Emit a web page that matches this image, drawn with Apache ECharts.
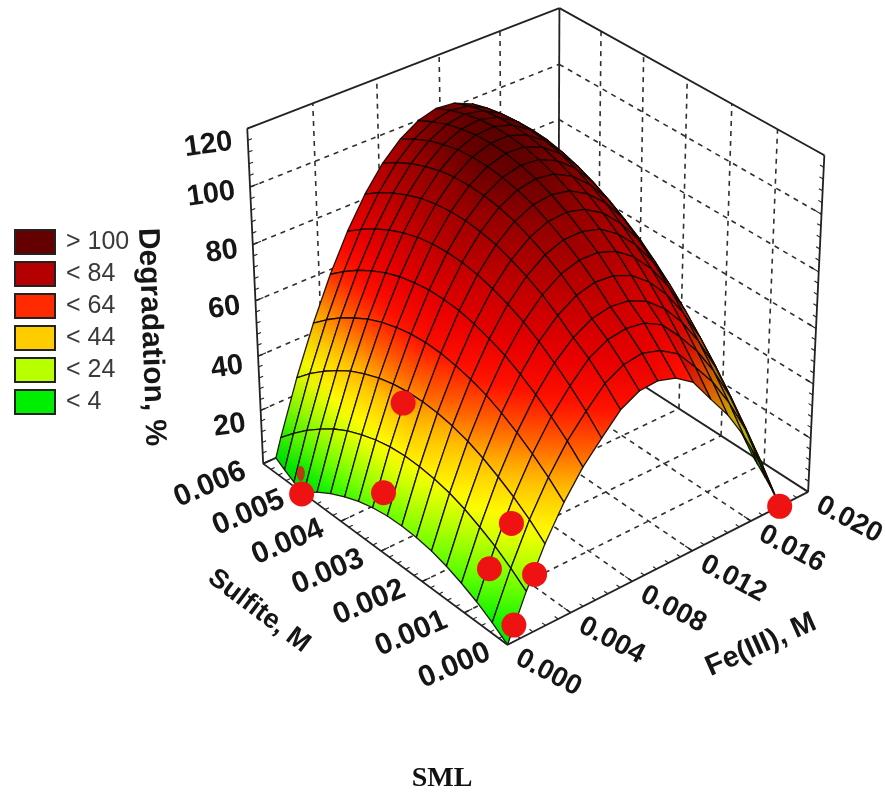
<!DOCTYPE html>
<html><head><meta charset="utf-8">
<style>html,body{margin:0;padding:0;background:#fff}#c{width:885px;height:793px;filter:blur(0.45px)}</style>
<script src="https://cdn.jsdelivr.net/npm/echarts@6/dist/echarts.min.js"></script>
</head><body><div id="c"></div>
<script>
// ---------- values ----------
const feGrid = [0,0.00118,0.00235,0.00353,0.00471,0.00588,0.00706,0.00824,0.00941,0.01059,0.01176,0.01294,0.01412,0.01529,0.01647,0.01765,0.01882,0.02];
const sulfiteGrid = [0,0.00035,0.00071,0.00106,0.00141,0.00176,0.00212,0.00247,0.00282,0.00318,0.00353,0.00388,0.00424,0.00459,0.00494,0.00529,0.00565,0.006];
// one row per sulfite level, one column per Fe(III) level; below 0 lies under the floor
const degradation = [
[0,15.9,29.6,41.0,50.2,57.2,64,67.5,68,66,61.5,52.6,44.0,33.3,20.3,5.0,-12.4,-32],
[4.0,20.2,34.3,46.0,55.6,62.9,69.5,73,74,72,68,60.3,52.1,41.7,29.1,14.1,-3.0,-22.2],
[7.4,24.0,38.4,50.4,60.3,68.0,74.5,78,79,78,74.5,67.5,59.5,49.5,37.2,22.6,5.9,-13.1],
[10.1,27.0,41.7,54.2,64.4,72.4,78.2,81.8,83.1,82.3,79.3,73.9,66.3,56.6,44.6,30.4,14.0,-4.6],
[12.3,29.6,44.6,57.4,67.9,76.3,82.4,86.4,88.1,87.5,84.9,79.8,72.6,63.2,51.6,37.7,21.6,3.4],
[13.9,31.5,46.9,60.0,70.9,79.6,86.1,90.4,92.4,92.2,89.9,85.2,78.3,69.2,57.9,44.3,28.6,10.7],
[14.8,32.7,48.5,61.9,73.1,82.2,89.0,93.6,96.0,96.1,94.2,89.8,83.2,74.6,63.6,50.3,35.0,17.4],
[15.1,33.4,49.5,63.2,74.8,84.2,91.3,96.3,99.0,99.5,97.8,93.8,87.6,79.3,68.6,55.7,40.7,23.5],
[14.9,33.5,49.9,64.0,76.0,85.7,93.2,98.5,101.5,102.3,101.0,97.3,91.5,83.5,73.2,60.6,45.9,29.0],
[14.0,33.0,49.7,64.2,76.4,86.5,94.3,100.0,103.3,104.5,103.5,100.2,94.6,87.0,77.0,64.8,50.4,33.9],
[12.5,31.8,48.9,63.7,76.3,86.7,94.9,100.8,104.5,106.0,105.4,102.4,97.2,89.9,80.3,68.4,54.4,38.2],
[10.4,30.0,47.5,62.6,75.5,86.3,94.8,101.1,105.1,107.0,106.7,104.0,99.2,92.2,82.9,71.4,57.7,41.8],
[7.7,27.7,45.4,60.9,74.2,85.3,94.1,100.8,105.2,107.3,107.4,105.1,100.5,93.9,85.0,73.7,60.4,44.9],
[4.4,24.7,42.8,58.6,72.2,83.6,92.9,99.9,104.6,107.1,107.5,105.5,101.3,95.0,86.4,75.5,62.5,47.3],
[0.4,21.0,39.5,55.6,69.6,81.3,90.9,98.2,103.3,106.1,106.9,105.2,101.4,95.4,87.2,76.6,64.0,49.1],
[-4.1,16.9,35.7,52.2,66.5,78.5,88.4,96.1,101.5,104.7,105.8,104.5,100.9,95.3,87.4,77.2,64.9,50.4],
[-9.3,12.0,31.2,48.0,62.6,75.0,85.3,93.3,99.0,102.5,104.0,103.0,99.8,94.5,87.0,77.1,65.1,50.9],
[-15,6.7,26.1,43.3,58.3,71.0,81.6,90.0,96.0,99.9,101.7,101.0,98.2,93.2,86.0,76.5,64.8,51.0]
];
const dotFe = [0.018,0,0.0016,0.0005,0.0004,0.0017,0.0016,0.003];
const dotSulfite = [0,0.005,0.003,0.0031,0,0,0.001,0.001];
const dotDegradation = [0,-0.7,49.5,19,6,20.5,11.5,24];
const hiddenDot = [0,0.005,7];
const feTicks = [0,0.004,0.008,0.012,0.016,0.02];
const feTickLabels = ['0.000','0.004','0.008','0.012','0.016','0.020'];
const sulfiteTicks = [0,0.001,0.002,0.003,0.004,0.005,0.006];
const sulfiteTickLabels = ['0.000','0.001','0.002','0.003','0.004','0.005','0.006'];
const zTicks = [20,40,60,80,100,120];
const zLabelNudge = [4,0,-4,-4,-5,4];
const legendNames = ['> 100','< 84','< 64','< 44','< 24','< 4'];
const legendColors = ['#640000','#b40000','#ff2a00','#ffcc00','#b8ff00','#00ee00'];

// ---------- view calibration: where the box corners fall on the page ----------
const feMax = 0.02, sMax = 0.006, zMax = 120;
const boxAnchors = [
  [0,0,0,508,645],[1,0,0,808,492],[0,1,0,263,463],[1,1,0,558,331],
  [1,0,1,824,155],[0,1,1,247,129],[1,1,1,560,8]
];
function solveCamera(anchors){
  const rows=[],rhs=[];
  anchors.forEach(([X,Y,Z,px,py])=>{
    const x=px/1000,y=py/1000;
    rows.push([X,Y,Z,1,0,0,0,0,-x*X,-x*Y,-x*Z]);rhs.push(x);
    rows.push([0,0,0,0,X,Y,Z,1,-y*X,-y*Y,-y*Z]);rhs.push(y);
  });
  const n=11,M=[];
  for(let a=0;a<n;a++){M[a]=[];for(let b=0;b<n;b++){let s=0;rows.forEach(r=>s+=r[a]*r[b]);M[a][b]=s;}
    let s=0;rows.forEach((r,k)=>s+=r[a]*rhs[k]);M[a][n]=s;}
  for(let c=0;c<n;c++){let p=c;for(let r=c+1;r<n;r++)if(Math.abs(M[r][c])>Math.abs(M[p][c]))p=r;
    [M[c],M[p]]=[M[p],M[c]];
    for(let r=0;r<n;r++){if(r===c)continue;const f=M[r][c]/M[c][c];for(let k=c;k<=n;k++)M[r][k]-=f*M[c][k];}}
  return M.map((r,i)=>r[n]/r[i]);
}
const cam = solveCamera(boxAnchors);
function project(fe,s,z){
  const X=fe/feMax,Y=s/sMax,Z=z/zMax;
  const w=cam[8]*X+cam[9]*Y+cam[10]*Z+1;
  return [1000*(cam[0]*X+cam[1]*Y+cam[2]*Z+cam[3])/w,1000*(cam[4]*X+cam[5]*Y+cam[6]*Z+cam[7])/w];
}

// ---------- colour ramp ----------
const rampZ = [0,4,14,24,32,44,54,64,74,84,98,106,114];
const rampC = [[0,224,0],[0,240,0],[100,255,0],[190,255,0],[255,255,0],[255,190,0],[255,96,0],[255,16,0],[232,0,0],[200,0,0],[150,0,0],[100,0,0],[60,0,0]];
function colorAt(z,shade){
  let c=rampC[rampC.length-1];
  if(z<=rampZ[0])c=rampC[0];
  else for(let k=1;k<rampZ.length;k++){ if(z<=rampZ[k]){const t=(z-rampZ[k-1])/(rampZ[k]-rampZ[k-1]);
    c=rampC[k-1].map((a,m)=>a+(rampC[k][m]-a)*t);break;}}
  return `rgb(${c.map(a=>Math.round(a*shade))})`;
}

// ---------- surface cells, far corner first ----------
const cells=[];
for(let i=feGrid.length-2;i>=0;i--)for(let j=sulfiteGrid.length-2;j>=0;j--)cells.push([i,j]);
function clipFloor(poly){
  const out=[];
  poly.forEach((a,k)=>{const b=poly[(k+1)%poly.length];
    if(a[2]>=0)out.push(a);
    if((a[2]<0)!==(b[2]<0)){const t=a[2]/(a[2]-b[2]);out.push([a[0]+(b[0]-a[0])*t,a[1]+(b[1]-a[1])*t,0]);}
  });
  return out;
}
function cellShade(i,j){
  const Z=(a,b)=>degradation[b][a]/zMax;
  const du=(Z(i+1,j)+Z(i+1,j+1)-Z(i,j)-Z(i,j+1))/2*(feGrid.length-1);
  const dv=(Z(i,j+1)+Z(i+1,j+1)-Z(i,j)-Z(i+1,j))/2*(sulfiteGrid.length-1);
  const len=Math.hypot(du,dv,1);
  const nL=(0.42*du+0.42*dv+0.80)/len;
  return Math.max(0.64,Math.min(1,0.55+0.75*nL));
}
function renderCell(params,api){
  const i=api.value(0),j=api.value(1);
  const v=(a,b)=>[feGrid[a],sulfiteGrid[b],degradation[b][a]];
  const poly=clipFloor([v(i,j),v(i+1,j),v(i+1,j+1),v(i,j+1)]);
  if(poly.length<3)return null;
  const pts=poly.map(p=>api.coord(project(p[0],p[1],p[2])));
  let lo=0,hi=0;poly.forEach((p,k)=>{if(p[2]<poly[lo][2])lo=k;if(p[2]>poly[hi][2])hi=k;});
  const zl=poly[lo][2],zh=poly[hi][2],stops=[],sh=cellShade(i,j);
  for(let t=0;t<=4;t++)stops.push({offset:t/4,color:colorAt(zl+(zh-zl)*t/4,sh)});
  return {type:'polygon',shape:{points:pts},silent:true,style:{
    fill:new echarts.graphic.LinearGradient(pts[lo][0],pts[lo][1],pts[hi][0],pts[hi][1],stops,true),
    stroke:'rgba(20,5,0,0.92)',lineWidth:1.3,lineJoin:'round'}};
}

// ---------- box lines ----------
const fe1=feMax,s1=sMax,z1=zMax;
const dash=[5,5];
const backLines=[],frontLines=[];
function seg(list,a,b,type){list.push({a,b,type});}
feTicks.slice(1,-1).forEach(f=>{
  seg(backLines,[f,0,0],[f,s1,0],'d');
  seg(backLines,[f,s1,0],[f,s1,z1],'d');
});
sulfiteTicks.slice(1,-1).forEach(s=>{
  seg(backLines,[0,s,0],[fe1,s,0],'d');
  seg(backLines,[fe1,s,0],[fe1,s,z1],'d');
});
zTicks.slice(0,-1).forEach(z=>{
  seg(backLines,[0,s1,z],[fe1,s1,z],'d');
  seg(backLines,[fe1,s1,z],[fe1,0,z],'d');
});
seg(backLines,[0,s1,0],[fe1,s1,0],'s');seg(backLines,[fe1,s1,0],[fe1,0,0],'s');
seg(backLines,[fe1,s1,0],[fe1,s1,z1],'s');seg(backLines,[0,s1,0],[0,s1,z1],'s');seg(backLines,[fe1,0,0],[fe1,0,z1],'s');
seg(backLines,[0,s1,z1],[fe1,s1,z1],'s');seg(backLines,[fe1,s1,z1],[fe1,0,z1],'s');
seg(frontLines,[0,s1,0],[0,0,0],'s');seg(frontLines,[0,0,0],[fe1,0,0],'s');
for(let k=0;k<=30;k++){const s=k*s1/30,big=k%5===0;seg(frontLines,[0,s,0],[big?0.0005:0.00025,s,0],'t');}
for(let k=0;k<=25;k++){const f=k*fe1/25,big=k%5===0;seg(frontLines,[f,0,0],[f,big?0.00016:0.00008,0],'t');}
for(let k=0;k<=30;k++){const z=k*z1/30;seg(backLines,[0,s1,z],[k%5===0?0.0005:0.00025,s1,z],'t');}
for(let k=0;k<=30;k++){const z=k*z1/30;seg(backLines,[fe1,0,z],[fe1,k%5===0?0.00016:0.00008,z],'t');}
function lineSeries(list,zl){
  return {type:'custom',coordinateSystem:'cartesian2d',z:zl,silent:true,clip:false,animation:false,
    data:list.map((_,k)=>[k,0]),
    renderItem(params,api){
      const q=list[api.value(0)],A=api.coord(project(...q.a)),B=api.coord(project(...q.b));
      return {type:'line',shape:{x1:A[0],y1:A[1],x2:B[0],y2:B[1]},silent:true,style:{
        stroke:q.type==='d'?'#303030':'#222',lineWidth:q.type==='d'?1.6:(q.type==='t'?1.1:1.8),
        lineDash:q.type==='d'?dash:null}};
    }};
}

// ---------- text placed from the axes ----------
const texts=[];
sulfiteTicks.forEach((s,k)=>{const p=project(0,s,0);texts.push({t:sulfiteTickLabels[k],x:p[0]-53,y:p[1]+21,r:23,a:'center',f:'bold 30px "Liberation Sans"'});});
feTicks.forEach((f,k)=>{const p=project(f,0,0);texts.push({t:feTickLabels[k],x:p[0]+41,y:p[1]+28,r:-28,a:'center',f:'bold 28px "Liberation Sans"'});});
zTicks.forEach((z,k)=>{const p=project(0,s1,z);texts.push({t:String(z),x:p[0]-15,y:p[1]+9+zLabelNudge[k],r:8,a:'right',f:'bold 29px "Liberation Sans"'});});
texts.push({t:'Sulfite, M',x:259,y:611,r:-37,a:'center',f:'bold 27px "Liberation Sans"'});
texts.push({t:'Fe(III), M',x:761,y:645,r:24,a:'center',f:'bold 29px "Liberation Sans"'});
texts.push({t:'Degradation, %',x:151,y:337,r:-88,a:'center',f:'bold 30px "Liberation Sans"'});

const option={
  animation:false,
  backgroundColor:'#fff',
  title:{text:'SML',left:437,top:760,textAlign:'center',textStyle:{fontFamily:'Liberation Serif',fontWeight:'bold',fontSize:28,color:'#111'}},
  grid:{left:0,right:0,top:0,bottom:0},
  xAxis:{type:'value',min:0,max:885,show:false},
  yAxis:{type:'value',min:0,max:793,inverse:true,show:false},
  legend:{orient:'vertical',left:14,top:229,padding:0,itemWidth:40,itemHeight:24,itemGap:6,selectedMode:false,icon:'rect',
    data:legendNames,textStyle:{fontFamily:'Liberation Sans',fontSize:25,color:'#3a3a3a',padding:[0,0,0,6]}},
  series:[
    ...legendNames.map((n,k)=>({type:'scatter',name:n,data:[],itemStyle:{color:legendColors[k],opacity:1,borderColor:'#222',borderWidth:1.6}})),
    lineSeries(backLines,1),
    {type:'custom',name:'surface',coordinateSystem:'cartesian2d',z:2,clip:false,silent:true,animation:false,
      data:cells,renderItem:renderCell},
    lineSeries(frontLines,3),
    {type:'scatter',name:'points',z:4,silent:true,clip:false,
      data:[
        {value:project(...hiddenDot),symbolSize:[8,15],symbol:'circle',itemStyle:{color:'#b83a10',opacity:1}},
        ...dotFe.map((f,k)=>({value:project(f,dotSulfite[k],dotDegradation[k]),symbolSize:25,itemStyle:{color:'#ee1212',opacity:1}}))
      ]},
    {type:'custom',name:'text',coordinateSystem:'cartesian2d',z:5,clip:false,silent:true,animation:false,
      data:texts.map((_,k)=>[k,0]),
      renderItem(params,api){
        const q=texts[api.value(0)],p=api.coord([q.x,q.y]);
        return {type:'text',x:p[0],y:p[1],rotation:q.r*Math.PI/180,silent:true,style:{text:q.t,font:q.f,fill:'#161616',align:q.a,verticalAlign:'middle'}};
      }}
  ]
};
const chart=echarts.init(document.getElementById('c'),null,{renderer:'canvas',width:885,height:793});
chart.setOption(option);
</script></body></html>
